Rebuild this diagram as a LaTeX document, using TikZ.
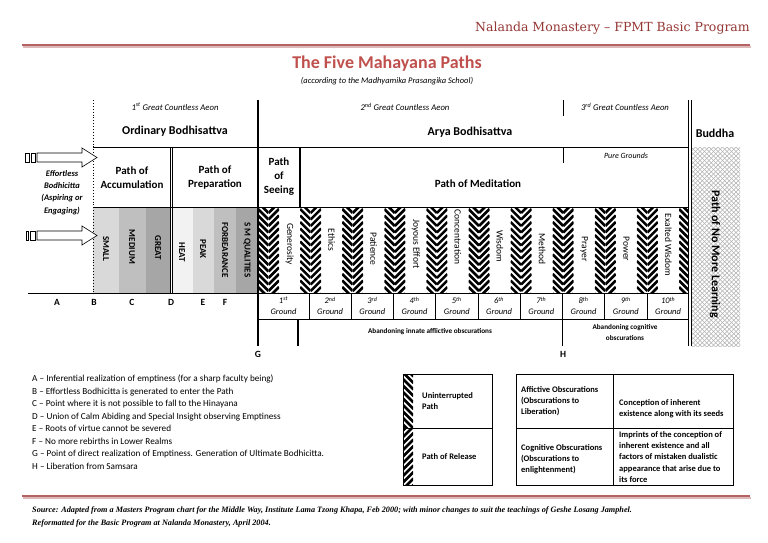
\documentclass[tikz,border=0pt]{standalone}
\usepackage{fontspec}
\setmainfont{Carlito}
\newfontfamily\headfont{DejaVu Serif}
\newfontfamily\srcfont{Liberation Serif}
\usetikzlibrary{positioning}
\definecolor{headred}{RGB}{149,55,53}
\definecolor{titlered}{RGB}{192,80,77}
\definecolor{rulered}{RGB}{180,98,98}
\definecolor{grayA}{RGB}{242,242,242}
\definecolor{grayB}{RGB}{217,217,217}
\definecolor{grayC}{RGB}{191,191,191}
\definecolor{grayD}{RGB}{166,166,166}

\begin{document}
\begin{tikzpicture}[x=1pt,y=-1pt,
  pathlbl/.style={font=\fontsize{11}{14}\selectfont\bfseries,align=center},
  rowlbl/.style={font=\fontsize{12}{13}\selectfont\bfseries},
  aeon/.style={font=\fontsize{8.7}{10}\selectfont\itshape},
  graytxt/.style={rotate=-90,font=\fontsize{9}{10}\selectfont\bfseries},
  virtue/.style={rotate=-90,font=\fontsize{9.5}{10}\selectfont},
  ground/.style={font=\fontsize{8.5}{11}\selectfont\itshape,align=center},
  abandon/.style={font=\fontsize{7.2}{11}\selectfont\bfseries,align=center},
  ptlbl/.style={font=\fontsize{9.5}{11}\selectfont\bfseries},
  keytxt/.style={font=\fontsize{9.2}{12.5}\selectfont,align=left,anchor=west},
  boxtxt/.style={font=\fontsize{8.5}{11.2}\selectfont\bfseries,align=left,anchor=west},
  stripe/.style={line width=2.6pt},
  rule/.style={line width=0.8pt},
  blockarrow/.style={draw,line width=0.6pt,fill=white}]
\tikzstyle{every node}+=[inner sep=0pt]
\fill[white] (0,0) rectangle (768,543);
\useasboundingbox (0,0) rectangle (768,543);

% header and title
\node[anchor=east,text=headred,font=\headfont\fontsize{12.5}{14}\selectfont] (header) at (750,28) {Nalanda Monastery – FPMT Basic Program};
\draw[rulered!45,line width=1.4pt] (23,47) -- (751,47);
\draw[rulered,line width=1.8pt] (22,45) -- (750,45);
\node[text=titlered,font=\fontsize{18}{20}\selectfont\bfseries] (title) at (387,64) {The Five Mahayana Paths};
\node[font=\fontsize{8.5}{9}\selectfont\itshape] (subtitle) at (387,81) {(according to the Madhyamika Prasangika School)};

% aeons and bodhisattvas
\node[aeon] (aeon1) at (175,107) {1\textsuperscript{st} Great Countless Aeon};
\node[aeon] (aeon2) at (405,107) {2\textsuperscript{nd} Great Countless Aeon};
\node[aeon] (aeon3) at (625,107) {3\textsuperscript{rd} Great Countless Aeon};
\node[rowlbl] (ordinary) at (175,131) {Ordinary Bodhisattva};
\node[rowlbl] (arya) at (470,132) {Arya Bodhisattva};
\node[rowlbl] (buddha) at (715,133) {Buddha};

% grey stages
\fill[grayB] (93,207) rectangle (119,293);
\fill[grayC] (119,207) rectangle (146,293);
\fill[grayD] (146,207) rectangle (170,293);
\fill[grayA] (172.5,207) rectangle (193,293);
\fill[grayB] (193,207) rectangle (214,293);
\fill[grayC] (214,207) rectangle (236,293);
\fill[grayD] (236,207) rectangle (258,293);
\node[graytxt] (small) at (106,249) {SMALL};
\node[graytxt] (medium) at (132,247) {MEDIUM};
\node[graytxt] (great) at (158,248) {GREAT};
\node[graytxt] (heat) at (182,252) {HEAT};
\node[graytxt] (peak) at (203,249) {PEAK};
\node[graytxt] (forbear) at (225,250) {FORBEARANCE};
\node[graytxt] (smq) at (247,250) {S M QUALITIES};

% uninterrupted paths and paths of release
\foreach \i in {0,...,9}{
  \pgfmathsetmacro{\xa}{258+42.1*\i}
  \begin{scope}
    \clip (\xa,207) rectangle ++(10.5,86);
    \foreach \k in {0,...,15} \draw[stripe] (\xa,196+6.5*\k) -- ++(10.5,10.5);
  \end{scope}
  \begin{scope}
    \clip (\xa+10.5,207) rectangle ++(10.5,86);
    \foreach \k in {0,...,15} \draw[stripe] (\xa+21,196+6.5*\k) -- ++(-10.5,10.5);
  \end{scope}
}
\begin{scope}
  \clip (679,207) rectangle (688,293);
  \foreach \k in {0,...,15} \draw[stripe] (679,196+6.5*\k) -- ++(10.5,10.5);
\end{scope}
\foreach \v/\yy [count=\i from 0] in {Generosity/244,Ethics/240,Patience/249,Joyous Effort/244,Concentration/237,Wisdom/246,Method/249,Prayer/249,Power/249,Exalted Wisdom/245}
  \node[virtue] (virtue\i) at (289.5+42.1*\i,\yy) {\v};

% path of no more learning
\begin{scope}
  \clip (691,147) rectangle (740,346);
  \foreach \k in {-12,...,56}{
    \draw[gray!60,line width=0.5pt] (691,147+4.5*\k) -- ++(50,50);
    \draw[gray!60,line width=0.5pt] (691,147+4.5*\k) -- ++(50,-50);
  }
\end{scope}
\node[rowlbl,rotate=-90] (nomore) at (715,254) {Path of No More Learning};

% frame
\draw[dotted,line width=0.9pt] (93,100) -- (93,293);
\draw[line width=1.3pt] (258,100) -- (258,346);
\draw[rule] (563,100) -- (563,116);
\draw[rule] (688,100) -- (688,346);
\draw[rule] (691,100) -- (691,346);
\draw[rule] (93,147) -- (688,147);
\draw[rule] (93,207) -- (688,207);
\draw[rule] (28,293) -- (688,293);
\draw[rule] (258,319.5) -- (688,319.5);
\draw[rule] (170,147) -- (170,293);
\draw[rule] (172.5,147) -- (172.5,293);
\draw[line width=1.1pt] (300,147) -- (300,207);
\draw[rule] (563,147) -- (563,163);
\foreach \k in {0,...,8} \draw[rule] (309+42.25*\k,293) -- (309+42.25*\k,319.5);
\draw[line width=1.1pt] (298,319.5) -- (298,346);
\draw[line width=1.1pt] (562.5,293) -- (562.5,346);

% paths
\node[pathlbl] (accum) at (132,178) {Path of\\Accumulation};
\node[pathlbl] (prep) at (215,178) {Path of\\Preparation};
\node[pathlbl] (seeing) at (279,177) {Path\\of\\Seeing};
\node[pathlbl] (medit) at (478,184) {Path of Meditation};
\node[font=\fontsize{8}{9}\selectfont\itshape] (pure) at (626,156) {Pure Grounds};

% grounds
\node[ground] (ground1) at (283.5,306) {1\textsuperscript{st}\\Ground};
\foreach \n/\s [count=\k from 0] in {2/nd,3/rd,4/th,5/th,6/th,7/th,8/th,9/th,10/th}
  \node[ground] (ground\n) at (330.1+42.25*\k,306) {\n\textsuperscript{\s}\\Ground};
\node[abandon] (innate) at (430,332) {Abandoning innate afflictive obscurations};
\node[abandon] (cognit) at (625,332.5) {Abandoning cognitive\\obscurations};

% entry arrows
\draw[blockarrow] (25,153) rectangle (29.5,162);
\draw[blockarrow] (31,153) rectangle (35.5,162);
\draw[blockarrow] (37,153) -- (82,153) -- (82,148) -- (97,157.5) -- (82,167) -- (82,162) -- (37,162) -- cycle;
\draw[blockarrow] (26,231) rectangle (28.5,240);
\draw[blockarrow] (30,231) rectangle (35.5,240);
\draw[blockarrow] (37,231) -- (82,231) -- (82,226) -- (97,235.5) -- (82,245) -- (82,240) -- (37,240) -- cycle;
\node[font=\fontsize{8.5}{12.3}\selectfont\bfseries\itshape,align=center] (effortless) at (62,192.5) {Effortless\\Bodhicitta\\(Aspiring or\\Engaging)};

% points
\node[ptlbl] (ptA) at (57,302) {A};
\node[ptlbl] (ptB) at (94,302) {B};
\node[ptlbl] (ptC) at (132,302) {C};
\node[ptlbl] (ptD) at (171,302) {D};
\node[ptlbl] (ptE) at (203,302) {E};
\node[ptlbl] (ptF) at (225,302) {F};
\node[ptlbl] (ptG) at (258,354) {G};
\node[ptlbl] (ptH) at (563,354) {H};

% key
\node[keytxt] (keylist) at (32,422) {A – Inferential realization of emptiness (for a sharp faculty being)\\
B – Effortless Bodhicitta is generated to enter the Path\\
C – Point where it is not possible to fall to the Hinayana\\
D – Union of Calm Abiding and Special Insight observing Emptiness\\
E – Roots of virtue cannot be severed\\
F – No more rebirths in Lower Realms\\
G – Point of direct realization of Emptiness. Generation of Ultimate Bodhicitta.\\
H – Liberation from Samsara};

\begin{scope}
  \clip (403,374) rectangle (413,428);
  \foreach \k in {0,...,10} \draw[stripe] (403,366+6.5*\k) -- ++(10.5,10.5);
\end{scope}
\begin{scope}
  \clip (403,428) rectangle (413,485);
  \foreach \k in {0,...,10} \draw[stripe] (413.5,420+6.5*\k) -- ++(-10.5,10.5);
\end{scope}
\draw[rule] (403,374) rectangle (492,485);
\draw[rule] (403,428) -- (492,428);
\node[boxtxt] (uninterr) at (422,401) {Uninterrupted\\Path};
\node[boxtxt] (release) at (422,457) {Path of Release};

\draw[rule] (516,374) rectangle (733,485);
\draw[rule] (516,428) -- (733,428);
\draw[rule] (613,374) -- (613,485);
\node[boxtxt] (afflict) at (521,401) {Affictive Obscurations\\(Obscurations to\\Liberation)};
\node[boxtxt] (afflictdef) at (619,408.5) {Conception of inherent\\existence along with its seeds};
\node[boxtxt] (cognitive) at (521,459) {Cognitive Obscurations\\(Obscurations to\\enlightenment)};
\node[boxtxt] (cognitivedef) at (619,457) {Imprints of the conception of\\inherent existence and all\\factors of mistaken dualistic\\appearance that arise due to\\its force};

% footer
\draw[rulered!45,line width=1.4pt] (23,498) -- (751,498);
\draw[rulered,line width=1.8pt] (22,496) -- (750,496);
\node[anchor=west,align=left,font=\srcfont\fontsize{8.2}{13.5}\selectfont\bfseries\itshape] (source) at (32,517) {Source: Adapted from a Masters Program chart for the Middle Way, Institute Lama Tzong Khapa, Feb 2000; with minor changes to suit the teachings of Geshe Losang Jamphel.\\
Reformatted for the Basic Program at Nalanda Monastery, April 2004.};
\end{tikzpicture}
\end{document}
